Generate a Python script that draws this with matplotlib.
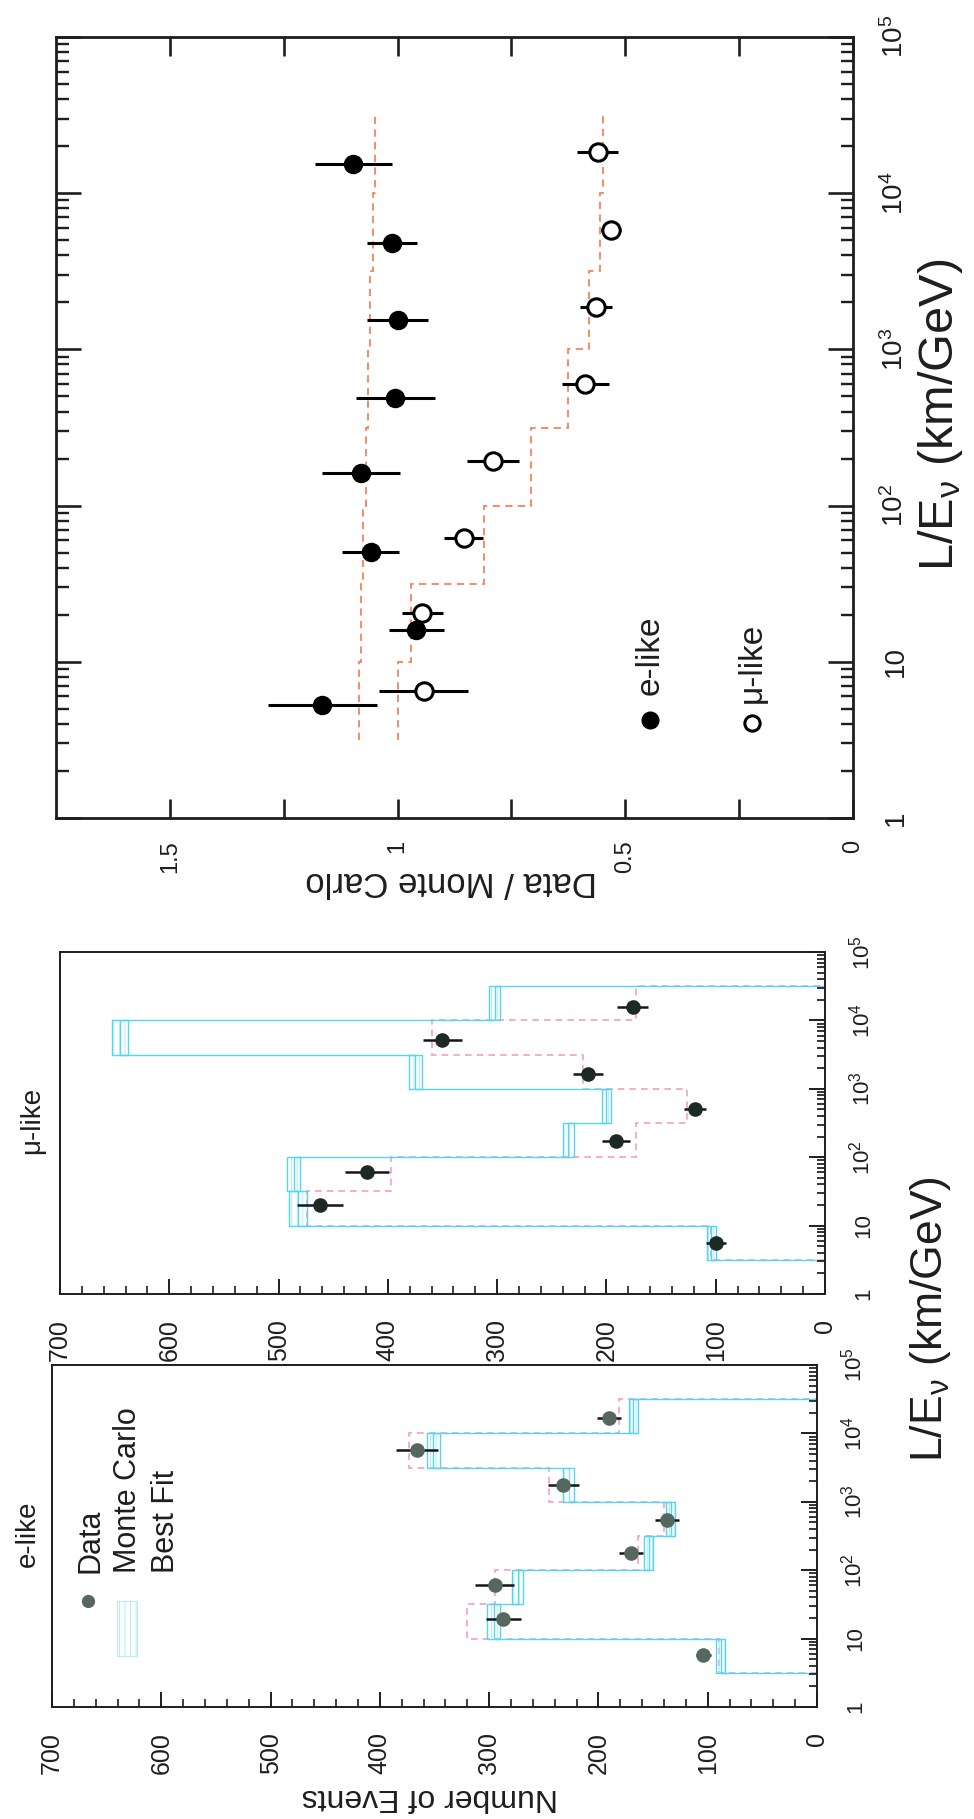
import numpy as np
import matplotlib
matplotlib.use("Agg")
import matplotlib.pyplot as plt
from matplotlib.patches import Rectangle
from matplotlib.ticker import (FixedLocator, FixedFormatter, LogLocator,
                               NullFormatter, MultipleLocator)

plt.rcParams['font.family'] = ['Liberation Sans', 'DejaVu Sans']
plt.rcParams['mathtext.fontset'] = 'custom'
plt.rcParams['mathtext.rm'] = 'Liberation Sans'
plt.rcParams['mathtext.it'] = 'Liberation Sans:italic'
plt.rcParams['mathtext.bf'] = 'Liberation Sans:bold'
plt.rcParams['hatch.linewidth'] = 0.6

TXT = '#1c1f1c'
CYAN = '#52d6f2'
CYAN_LIGHT = '#a8e8f7'
PINK = '#f3a0c4'
ORANGE = '#f2845c'
E_DOT = '#56675e'
MU_DOT = '#1d2a23'

# ---------------- data ----------------
bin_edges = [3.16, 10, 31.6, 100, 316, 1000, 3160, 10000, 31600]
le_ticks = [1, 10, 100, 1000, 10000, 100000]
le_ticklabels = ['1', '10', r'$10^{2}$', r'$10^{3}$', r'$10^{4}$', r'$10^{5}$']
count_ticks = [0, 100, 200, 300, 400, 500, 600, 700]
ratio_ticks = [0, 0.25, 0.5, 0.75, 1.0, 1.25, 1.5]
ratio_ticklabels = ['0', '', '0.5', '', '1', '', '1.5']

# e-like histogram
e_mc = [88, 296, 274, 154, 134, 227, 351, 168]
e_mc_err = [4, 6, 5, 4, 4, 5, 6, 4]
e_fit = [90, 320, 295, 164, 140, 245, 373, 181]
e_data_le = [5.7, 19.5, 61.7, 178, 537, 1778, 5754, 16600]
e_data = [104, 287, 295, 170, 137, 232, 366, 190]
e_data_err = [7, 16, 18, 11, 11, 14, 19, 11]

# mu-like histogram
mu_mc = [104, 482, 486, 235, 200, 375, 645, 302]
mu_mc_err = [4, 8, 6, 5, 4, 6, 7, 5]
mu_fit = [104, 474, 397, 173, 126, 221, 360, 173]
mu_data_le = [5.5, 20, 60, 174, 513, 1660, 5250, 15500]
mu_data = [100, 462, 419, 191, 119, 217, 350, 176]
mu_data_err = [9, 21, 20, 13, 10, 14, 18, 14]

# Data / Monte Carlo
e_ratio_le = [5.3, 15.9, 50.4, 161, 491, 1540, 4830, 15300]
e_ratio = [1.165, 0.959, 1.059, 1.080, 1.005, 1.000, 1.013, 1.097]
e_ratio_err = [0.12, 0.06, 0.062, 0.085, 0.087, 0.067, 0.055, 0.085]
mu_ratio_le = [6.5, 20.5, 62.2, 194, 597, 1870, 5820, 18400]
mu_ratio = [0.943, 0.946, 0.855, 0.791, 0.588, 0.564, 0.531, 0.561]
mu_ratio_err = [0.097, 0.045, 0.043, 0.057, 0.052, 0.035, 0.022, 0.044]
e_fit_ratio = [1.085, 1.08, 1.075, 1.07, 1.065, 1.06, 1.055, 1.05]
mu_fit_ratio = [1.0, 0.97, 0.81, 0.706, 0.625, 0.58, 0.555, 0.55]

XLABEL = r'L/E$_{\mathrm{\nu}}$ (km/GeV)'

# ---------------- figure ----------------
fig = plt.figure(figsize=(9.74, 18.19), dpi=100)
ax_r = fig.add_axes([0.0575, 0.5503, 0.8183, 0.4294])
ax_mu = fig.add_axes([0.0616, 0.2886, 0.7854, 0.1880])
ax_e = fig.add_axes([0.0534, 0.0616, 0.7854, 0.1880])


def style_le_axis(ax, both_sides, maj_len, min_len, width, pad, size):
    ax.set_yscale('log')
    ax.set_ylim(1, 1e5)
    ax.yaxis.set_major_locator(FixedLocator(le_ticks))
    ax.yaxis.set_major_formatter(FixedFormatter(le_ticklabels))
    ax.yaxis.set_minor_locator(LogLocator(base=10, subs=np.arange(2, 10)))
    ax.yaxis.set_minor_formatter(NullFormatter())
    ax.tick_params(axis='y', which='both', direction='in', left=both_sides,
                   right=True, labelleft=False, labelright=True, colors=TXT)
    ax.tick_params(axis='y', which='major', length=maj_len, width=width,
                   pad=pad, labelsize=size)
    ax.tick_params(axis='y', which='minor', length=min_len, width=width * 0.9)
    for lab in ax.get_yticklabels():
        lab.set_rotation(90)
        lab.set_rotation_mode('anchor')
        lab.set_horizontalalignment('center')
        lab.set_verticalalignment('baseline')


def hist_panel(ax, mc, mc_err, fit, dle, dval, derr, dcolor, title, tx):
    ax.set_xlim(700, 0)
    ax.stairs(fit, bin_edges, orientation='horizontal', baseline=0,
              color=PINK, lw=1.2, ls=(0, (4, 3)))
    ax.stairs(mc, bin_edges, orientation='horizontal', baseline=0,
              color=CYAN, lw=1.0)
    mc = np.array(mc, float)
    err = np.array(mc_err, float)
    ax.barh(bin_edges[:-1], 2 * err, height=np.diff(bin_edges), left=mc - err,
            align='edge', facecolor='none', edgecolor=CYAN_LIGHT, hatch='|||',
            lw=0)
    ax.barh(bin_edges[:-1], 2 * err, height=np.diff(bin_edges), left=mc - err,
            align='edge', facecolor='none', edgecolor=CYAN, lw=1.0)
    ax.errorbar(dval, dle, xerr=derr, fmt='o', color=dcolor, ms=9.5,
                ecolor='#151515', elinewidth=1.8, capsize=0, zorder=5)
    style_le_axis(ax, False, 11.5, 5.5, 1.4, 32, 16)
    ax.xaxis.set_major_locator(FixedLocator(count_ticks))
    ax.xaxis.set_minor_locator(MultipleLocator(20))
    ax.tick_params(axis='x', which='both', direction='in', top=False,
                   bottom=True, colors=TXT)
    ax.tick_params(axis='x', which='major', length=11, width=1.4, pad=18,
                   labelsize=18, labelrotation=90)
    ax.tick_params(axis='x', which='minor', length=5.5, width=1.2)
    for s in ax.spines.values():
        s.set_linewidth(1.4)
        s.set_color(TXT)
    ax.text(tx, 0.507, title, transform=ax.transAxes, rotation=90,
            ha='center', va='center', fontsize=20, color=TXT)


hist_panel(ax_mu, mu_mc, mu_mc_err, mu_fit, mu_data_le, mu_data, mu_data_err,
           MU_DOT, 'μ-like', -0.037)
hist_panel(ax_e, e_mc, e_mc_err, e_fit, e_data_le, e_data, e_data_err,
           E_DOT, 'e-like', -0.031)

# legend of e-like panel
ax_e.plot([0.047], [0.31], 'o', transform=ax_e.transAxes, color=E_DOT, ms=8.5)
ax_e.add_patch(Rectangle((0.085, 0.149), 0.026, 0.161, transform=ax_e.transAxes,
                         fill=False, edgecolor=CYAN_LIGHT, hatch='|||', lw=0.6))
for lx, txt in zip([0.050, 0.099, 0.149], ['Data', 'Monte Carlo', 'Best Fit']):
    ax_e.text(lx, 0.392, txt, transform=ax_e.transAxes, rotation=90,
              ha='center', va='bottom', fontsize=22, color=TXT)

ax_e.text(0.494, -0.263, 'Number of Events', transform=ax_e.transAxes,
          rotation=180, ha='center', va='center', fontsize=23, color=TXT)
fig.text(0.955, 0.275, XLABEL, rotation=90, ha='center',
         va='center', fontsize=32, color=TXT)

# ---------------- ratio panel ----------------
ax_r.set_xlim(1.75, 0)
ax_r.stairs(e_fit_ratio, bin_edges, orientation='horizontal', baseline=None,
            color=ORANGE, lw=1.3, ls=(0, (4, 3)))
ax_r.stairs(mu_fit_ratio, bin_edges, orientation='horizontal', baseline=None,
            color=ORANGE, lw=1.3, ls=(0, (4, 3)))
ax_r.errorbar(e_ratio, e_ratio_le, xerr=e_ratio_err, fmt='o', color='black',
              ms=13, elinewidth=2.2, capsize=0, zorder=5)
ax_r.errorbar(mu_ratio, mu_ratio_le, xerr=mu_ratio_err, fmt='o', mfc='white',
              mec='black', mew=2.2, color='black', ms=12.5, elinewidth=2.2,
              capsize=0, zorder=5)
style_le_axis(ax_r, True, 18, 9, 1.9, 36, 20)
ax_r.xaxis.set_major_locator(FixedLocator(ratio_ticks))
ax_r.xaxis.set_major_formatter(FixedFormatter(ratio_ticklabels))
ax_r.tick_params(axis='x', which='both', direction='in', top=True, bottom=True,
                 colors=TXT, length=13.5, width=1.9, pad=16, labelsize=17,
                 labelrotation=90)
for s in ax_r.spines.values():
    s.set_linewidth(2.0)
    s.set_color(TXT)

ax_r.plot([0.745], [0.125], 'o', transform=ax_r.transAxes, color='black', ms=12)
ax_r.plot([0.873], [0.121], 'o', transform=ax_r.transAxes, mfc='white',
          mec='black', mew=2.2, ms=11)
ax_r.text(0.745, 0.158, 'e-like', transform=ax_r.transAxes, rotation=90,
          ha='center', va='bottom', fontsize=24, color=TXT)
ax_r.text(0.873, 0.147, 'μ-like', transform=ax_r.transAxes, rotation=90,
          ha='center', va='bottom', fontsize=24, color=TXT)
ax_r.text(0.496, -0.081, 'Data / Monte Carlo', transform=ax_r.transAxes,
          rotation=180, ha='center', va='center', fontsize=25, color=TXT)
ax_r.text(1.11, 0.516, XLABEL, transform=ax_r.transAxes,
          rotation=90, ha='center', va='center', fontsize=35, color=TXT)

fig.savefig('out.png', dpi=100, facecolor='white')
